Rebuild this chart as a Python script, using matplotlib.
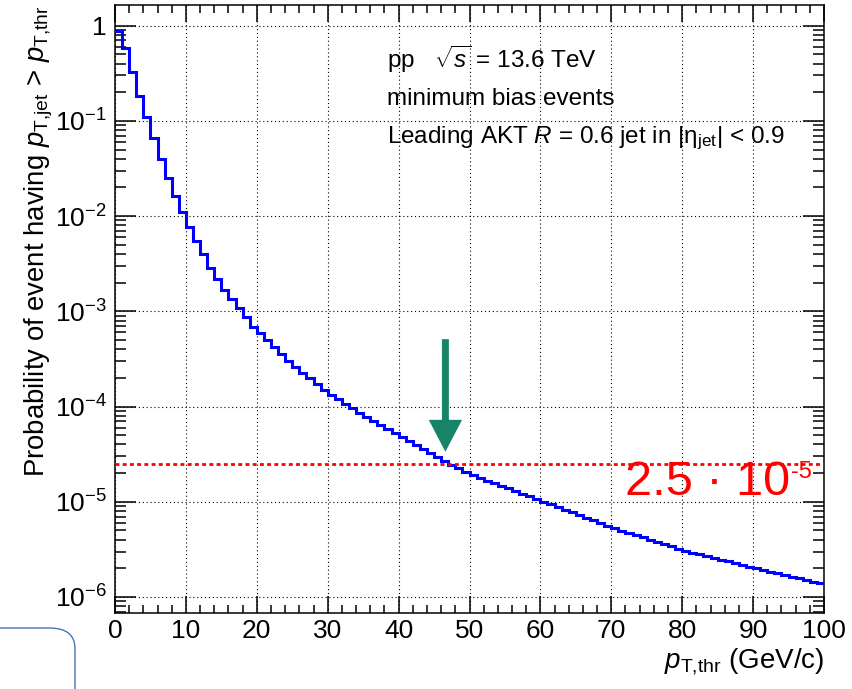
import numpy as np
import matplotlib
matplotlib.use('Agg')
import matplotlib.pyplot as plt
from matplotlib.ticker import MultipleLocator, LogLocator, FixedLocator, NullFormatter
from matplotlib.patches import FancyBboxPatch

plt.rcParams['font.family'] = ['Liberation Sans', 'DejaVu Sans']
plt.rcParams['mathtext.fontset'] = 'custom'
plt.rcParams['mathtext.rm'] = 'Liberation Sans'
plt.rcParams['mathtext.it'] = 'Liberation Sans:italic'
plt.rcParams['mathtext.bf'] = 'Liberation Sans:bold'

# probability per 1 GeV bin
bin_edges = np.arange(0, 101, 1)
prob = [
    0.886, 0.58, 0.329, 0.184, 0.109, 0.0667, 0.0395, 0.0253, 0.01625, 0.0110,
    0.00774, 0.00552, 0.00397, 0.00287, 0.00217, 0.00168, 0.00135, 0.00109, 8.65e-4, 6.89e-4,
    5.87e-4, 5.0e-4, 4.25e-4, 3.56e-4, 3.03e-4, 2.58e-4, 2.26e-4, 1.98e-4, 1.73e-4, 1.51e-4,
    1.32e-4, 1.19e-4, 1.06e-4, 9.57e-5, 8.59e-5, 7.71e-5, 7.0e-5, 6.35e-5, 5.75e-5, 5.22e-5,
    4.74e-5, 4.32e-5, 3.93e-5, 3.57e-5, 3.25e-5, 2.96e-5, 2.69e-5, 2.44e-5, 2.25e-5, 2.07e-5,
    1.90e-5, 1.78e-5, 1.67e-5, 1.57e-5, 1.47e-5, 1.38e-5, 1.29e-5, 1.21e-5, 1.14e-5, 1.07e-5,
    1.0e-5, 9.38e-6, 8.79e-6, 8.24e-6, 7.73e-6, 7.24e-6, 6.79e-6, 6.37e-6, 5.97e-6, 5.60e-6,
    5.25e-6, 4.97e-6, 4.71e-6, 4.47e-6, 4.23e-6, 4.01e-6, 3.79e-6, 3.60e-6, 3.40e-6, 3.23e-6,
    3.05e-6, 2.93e-6, 2.81e-6, 2.69e-6, 2.58e-6, 2.47e-6, 2.37e-6, 2.27e-6, 2.17e-6, 2.08e-6,
    2.0e-6, 1.92e-6, 1.84e-6, 1.77e-6, 1.70e-6, 1.63e-6, 1.57e-6, 1.51e-6, 1.45e-6, 1.39e-6,
]

threshold = 2.5e-5
arrow_x = 46.6
arrow_top = 5.1e-4
arrow_tip = 3.35e-5

xticks = [0, 10, 20, 30, 40, 50, 60, 70, 80, 90, 100]
yticks = [1e-6, 1e-5, 1e-4, 1e-3, 1e-2, 1e-1, 1]
ytick_labels = [r'$10^{-6}$', r'$10^{-5}$', r'$10^{-4}$', r'$10^{-3}$',
                r'$10^{-2}$', r'$10^{-1}$', '1']

fig = plt.figure(figsize=(8.52, 6.89), dpi=100)
ax = fig.add_axes([115 / 852, 76 / 689, 709 / 852, 608 / 689])

ax.set_yscale('log')
ax.set_xlim(0, 100)
ax.set_ylim(6.79e-7, 1.65)

ax.grid(True, which='major', color='black', lw=0.8, linestyle=(0, (1, 2.5)))
ax.set_axisbelow(True)

ax.stairs(prob, bin_edges, baseline=None, color='#0000ff', lw=2.2, zorder=3)
ax.axhline(threshold, color='#ff0000', lw=2, linestyle=(0, (1.4, 1.2)), zorder=4)

ax.annotate('', xy=(arrow_x, arrow_tip), xytext=(arrow_x, arrow_top),
            arrowprops=dict(width=5, headwidth=24, headlength=23, shrink=0,
                            lw=0, color='#17846a'), zorder=5)

t = ax.text(0.72, 0.194, '2.5 · 10', transform=ax.transAxes, color='#ff0000',
            fontsize=35, va='baseline', ha='left')
ax.annotate('-5', xy=(1.0, 0.97), xycoords=t, color='#ff0000', fontsize=17,
            va='top', ha='left')

ax.text(0.384, 0.896, r'pp   $\sqrt{s}$ = 13.6 TeV', transform=ax.transAxes,
        fontsize=17.5, va='baseline')
ax.text(0.384, 0.835, 'minimum bias events', transform=ax.transAxes,
        fontsize=17.5, va='baseline')
ax.text(0.384, 0.773, r'Leading AKT $R$ = 0.6 jet in |η$_{\rm jet}$| < 0.9',
        transform=ax.transAxes, fontsize=17.5, va='baseline')

ax.xaxis.set_major_locator(FixedLocator(xticks))
ax.xaxis.set_minor_locator(MultipleLocator(2))
ax.yaxis.set_major_locator(FixedLocator(yticks))
ax.set_yticklabels(ytick_labels)
ax.yaxis.set_minor_locator(LogLocator(base=10, subs=np.arange(2, 10)))
ax.yaxis.set_minor_formatter(NullFormatter())

ax.tick_params(axis='both', which='both', direction='in', top=True, right=True,
               width=1.1, labelsize=19)
ax.tick_params(axis='x', which='major', length=12, pad=4)
ax.tick_params(axis='x', which='minor', length=6)
ax.tick_params(axis='y', which='major', length=15, pad=6)
ax.tick_params(axis='y', which='minor', length=8)
for s in ax.spines.values():
    s.set_linewidth(1.1)

ax.set_xlabel(r'$p_{\rm T{,}thr}$ (GeV/c)', fontsize=20, loc='right')
ax.xaxis.set_label_coords(1.0, -0.09)
ax.xaxis.label.set_va('baseline')
ax.set_ylabel(r'Probability of event having $p_{\rm T{,}jet}$ > $p_{\rm T{,}thr}$',
              fontsize=19.8, loc='top')
ax.yaxis.set_label_coords(-0.1, 1.0)
ax.yaxis.label.set_va('baseline')

# rounded box corner in the lower left
box = FancyBboxPatch((-60 / 852, -40 / 689), 135 / 852, 101 / 689,
                     boxstyle='round,pad=0,rounding_size=0.03',
                     transform=fig.transFigure, fill=False,
                     edgecolor='#4a72b8', lw=1)
fig.patches.append(box)

fig.savefig('out.png', dpi=100)
